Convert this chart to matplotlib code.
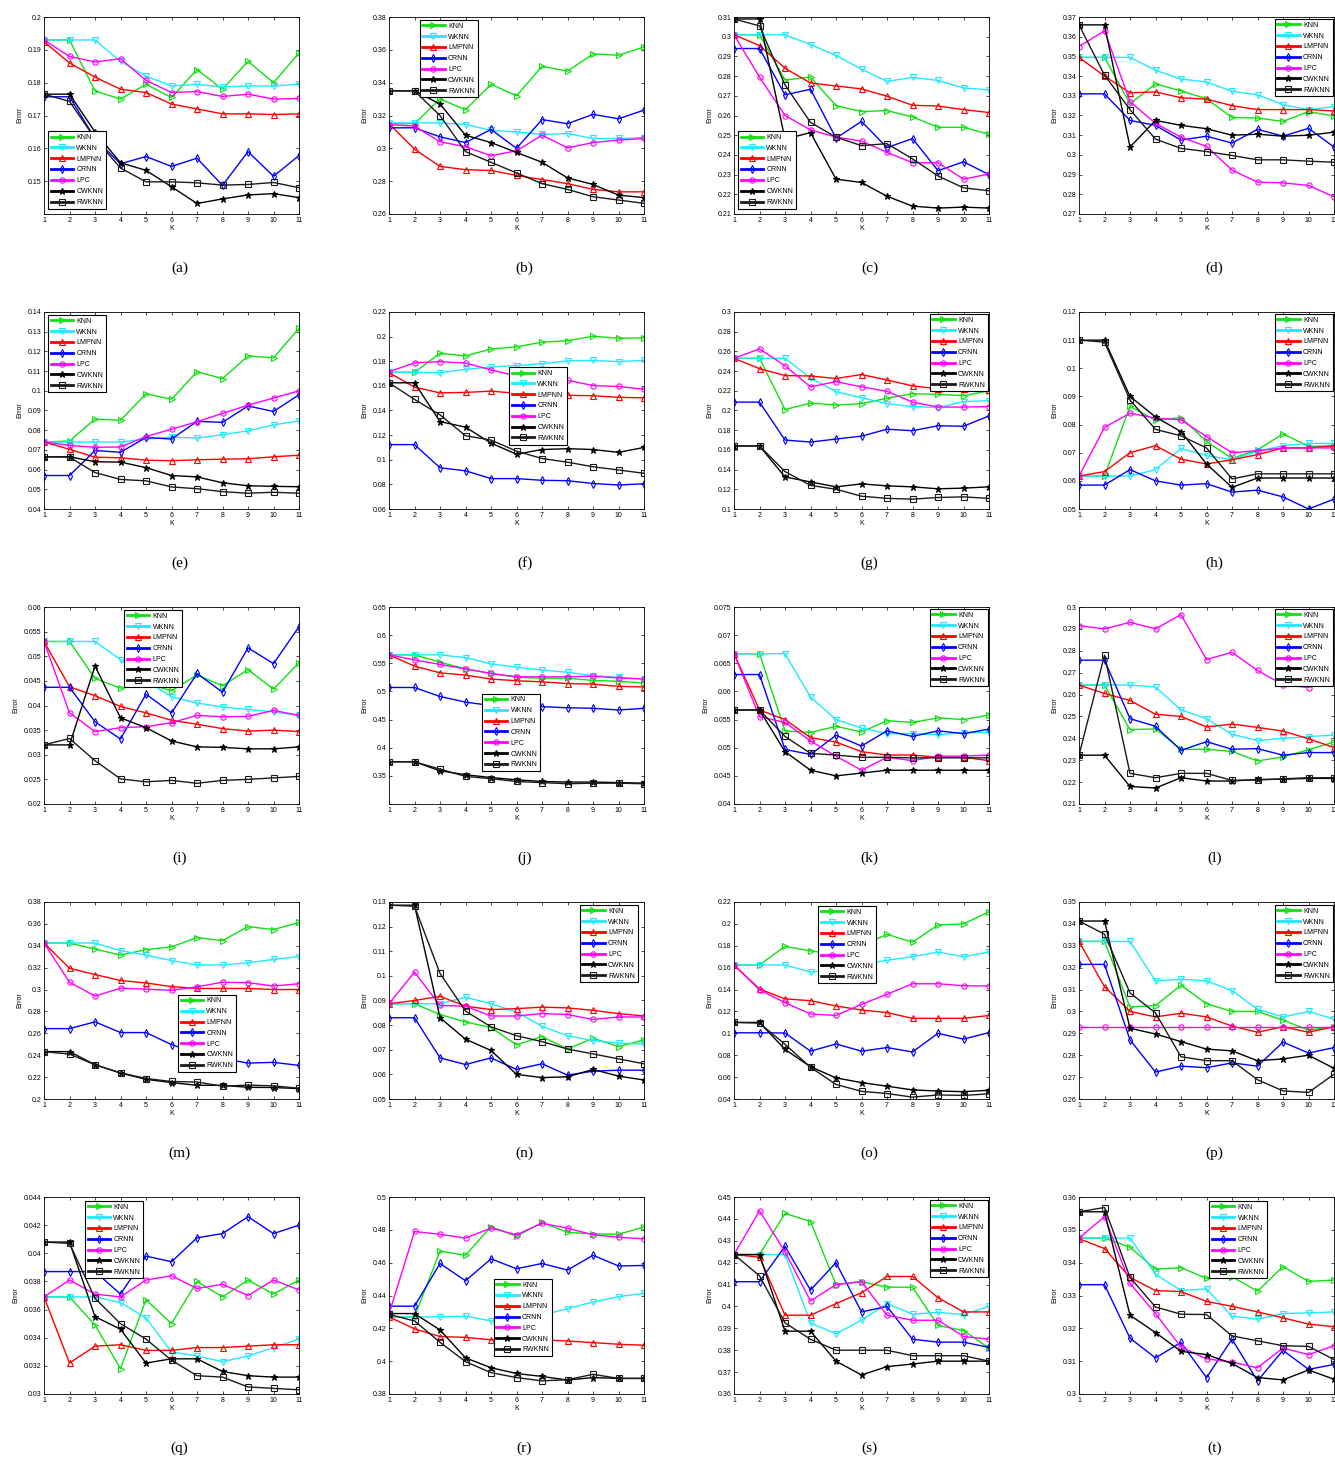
import matplotlib
matplotlib.use("Agg")
import matplotlib.pyplot as plt
import numpy as np

K = list(range(1, 12))
methods = ["KNN", "WKNN", "LMPNN", "CRNN", "LPC", "CWKNN", "RWKNN"]
colors = ["#10e010", "#20e8ff", "#ff0000", "#0000ff", "#ff00ff", "#000000", "#1a1a1a"]
markers = [">", "v", "^", "d", "o", "*", "s"]
panel_labels = ["(a)", "(b)", "(c)", "(d)", "(e)", "(f)", "(g)", "(h)", "(i)", "(j)",
                "(k)", "(l)", "(m)", "(n)", "(o)", "(p)", "(q)", "(r)", "(s)", "(t)"]

err_a = [
    [0.193, 0.193, 0.1775, 0.175, 0.1795, 0.1755, 0.184, 0.178, 0.1865, 0.180, 0.189],
    [0.193, 0.193, 0.193, 0.1865, 0.182, 0.179, 0.1795, 0.1787, 0.179, 0.179, 0.1795],
    [0.1925, 0.186, 0.1817, 0.178, 0.177, 0.1735, 0.172, 0.1705, 0.1705, 0.1703, 0.1705],
    [0.1757, 0.1757, 0.163, 0.1553, 0.1575, 0.1545, 0.157, 0.1487, 0.159, 0.1515, 0.1578],
    [0.193, 0.188, 0.1863, 0.1873, 0.1807, 0.177, 0.1773, 0.1758, 0.1765, 0.175, 0.1752],
    [0.1765, 0.1765, 0.165, 0.1556, 0.1533, 0.1483, 0.1432, 0.1446, 0.1458, 0.1462, 0.145],
    [0.1765, 0.1743, 0.163, 0.154, 0.1498, 0.1498, 0.1495, 0.1488, 0.149, 0.1496, 0.148],
]
err_b = [
    [0.315, 0.315, 0.330, 0.3235, 0.339, 0.332, 0.350, 0.347, 0.3575, 0.3567, 0.3617],
    [0.3155, 0.3155, 0.3155, 0.3145, 0.311, 0.310, 0.3085, 0.309, 0.306, 0.306, 0.3065],
    [0.315, 0.2995, 0.289, 0.287, 0.2865, 0.2835, 0.281, 0.2785, 0.275, 0.2735, 0.2735],
    [0.3125, 0.3125, 0.307, 0.3035, 0.3115, 0.300, 0.3175, 0.315, 0.3207, 0.318, 0.3233],
    [0.3145, 0.3135, 0.304, 0.301, 0.2955, 0.2985, 0.308, 0.3003, 0.3035, 0.305, 0.306],
    [0.335, 0.335, 0.327, 0.308, 0.3035, 0.2975, 0.2915, 0.282, 0.278, 0.2715, 0.270],
    [0.335, 0.335, 0.320, 0.298, 0.2915, 0.285, 0.2785, 0.275, 0.2705, 0.2685, 0.2665],
]
err_c = [
    [0.301, 0.301, 0.278, 0.2795, 0.265, 0.262, 0.2625, 0.2593, 0.254, 0.254, 0.2505],
    [0.301, 0.301, 0.301, 0.296, 0.2905, 0.2835, 0.2773, 0.2793, 0.2778, 0.274, 0.273],
    [0.301, 0.2955, 0.284, 0.2765, 0.275, 0.2735, 0.2698, 0.2652, 0.2648, 0.263, 0.2615],
    [0.294, 0.294, 0.2705, 0.2733, 0.2485, 0.257, 0.2437, 0.2483, 0.232, 0.2365, 0.230],
    [0.301, 0.2795, 0.260, 0.2527, 0.249, 0.247, 0.2413, 0.236, 0.236, 0.2277, 0.2303],
    [0.309, 0.309, 0.248, 0.2513, 0.2277, 0.226, 0.219, 0.214, 0.213, 0.2135, 0.213],
    [0.309, 0.3055, 0.2755, 0.2565, 0.249, 0.2447, 0.2457, 0.238, 0.2293, 0.2233, 0.2218],
]
err_d = [
    [0.3495, 0.3495, 0.326, 0.336, 0.3325, 0.3285, 0.319, 0.3187, 0.317, 0.322, 0.3197],
    [0.3495, 0.3495, 0.3495, 0.343, 0.3385, 0.337, 0.3323, 0.3305, 0.3255, 0.323, 0.3245],
    [0.3495, 0.340, 0.3315, 0.332, 0.329, 0.3283, 0.325, 0.323, 0.323, 0.323, 0.3223],
    [0.331, 0.331, 0.3175, 0.315, 0.3075, 0.3095, 0.306, 0.313, 0.3095, 0.3135, 0.304],
    [0.355, 0.363, 0.327, 0.316, 0.309, 0.3043, 0.2923, 0.2862, 0.2858, 0.2845, 0.2787],
    [0.366, 0.366, 0.304, 0.3175, 0.315, 0.3133, 0.310, 0.3105, 0.3095, 0.310, 0.3115],
    [0.366, 0.3405, 0.323, 0.308, 0.3033, 0.3017, 0.2997, 0.2975, 0.2975, 0.2968, 0.2963],
]
err_e = [
    [0.074, 0.0745, 0.0857, 0.085, 0.0985, 0.0957, 0.1097, 0.1062, 0.1177, 0.1167, 0.1317],
    [0.074, 0.074, 0.074, 0.074, 0.0755, 0.0765, 0.076, 0.0777, 0.0797, 0.0827, 0.0847],
    [0.074, 0.0703, 0.0663, 0.066, 0.0648, 0.0645, 0.065, 0.0653, 0.0655, 0.0665, 0.0673],
    [0.057, 0.057, 0.0697, 0.0688, 0.0763, 0.0755, 0.0845, 0.084, 0.0923, 0.0895, 0.098],
    [0.074, 0.0723, 0.0713, 0.0715, 0.0768, 0.0805, 0.0843, 0.0885, 0.0927, 0.0963, 0.100],
    [0.0665, 0.0665, 0.064, 0.0638, 0.061, 0.057, 0.0563, 0.0533, 0.0518, 0.0515, 0.0513],
    [0.0665, 0.0663, 0.0585, 0.055, 0.0543, 0.0512, 0.0503, 0.0488, 0.048, 0.0485, 0.048],
]
err_f = [
    [0.171, 0.171, 0.1865, 0.1843, 0.190, 0.1917, 0.1955, 0.1967, 0.2003, 0.1987, 0.199],
    [0.171, 0.171, 0.1707, 0.1735, 0.1753, 0.1765, 0.178, 0.1803, 0.1807, 0.1797, 0.1807],
    [0.1707, 0.159, 0.1543, 0.1547, 0.1557, 0.154, 0.153, 0.1523, 0.152, 0.1507, 0.1503],
    [0.1123, 0.1123, 0.0935, 0.091, 0.0847, 0.0847, 0.0833, 0.083, 0.0807, 0.0795, 0.0805],
    [0.1715, 0.1787, 0.1797, 0.1785, 0.173, 0.168, 0.166, 0.1645, 0.1603, 0.1595, 0.1573],
    [0.1625, 0.1625, 0.131, 0.1265, 0.1135, 0.1045, 0.1083, 0.109, 0.1083, 0.106, 0.110],
    [0.1625, 0.149, 0.1365, 0.1195, 0.116, 0.107, 0.101, 0.098, 0.0943, 0.0917, 0.089],
]
err_g = [
    [0.253, 0.253, 0.201, 0.2075, 0.2055, 0.207, 0.2125, 0.217, 0.2165, 0.215, 0.220],
    [0.253, 0.253, 0.253, 0.233, 0.219, 0.213, 0.207, 0.204, 0.203, 0.209, 0.210],
    [0.253, 0.2425, 0.2355, 0.235, 0.2325, 0.2365, 0.231, 0.225, 0.222, 0.222, 0.2205],
    [0.2085, 0.2085, 0.170, 0.168, 0.171, 0.174, 0.181, 0.1795, 0.1845, 0.184, 0.1945],
    [0.253, 0.2625, 0.2455, 0.224, 0.2293, 0.224, 0.2195, 0.2085, 0.2035, 0.2035, 0.204],
    [0.164, 0.164, 0.1325, 0.1275, 0.1225, 0.1255, 0.1235, 0.1225, 0.1205, 0.1212, 0.1225],
    [0.164, 0.164, 0.138, 0.124, 0.120, 0.113, 0.1108, 0.110, 0.1117, 0.1123, 0.1108],
]
err_h = [
    [0.0617, 0.0617, 0.0865, 0.0815, 0.0825, 0.074, 0.068, 0.071, 0.0767, 0.0723, 0.0723],
    [0.0617, 0.0617, 0.0617, 0.064, 0.0715, 0.069, 0.0675, 0.0705, 0.0725, 0.0733, 0.0733],
    [0.0617, 0.0633, 0.070, 0.0725, 0.0677, 0.066, 0.0675, 0.0693, 0.0717, 0.0717, 0.0725],
    [0.0585, 0.0585, 0.064, 0.060, 0.0585, 0.059, 0.056, 0.0567, 0.0543, 0.050, 0.0535],
    [0.0617, 0.079, 0.084, 0.0823, 0.0817, 0.0757, 0.070, 0.0707, 0.0717, 0.0717, 0.0717],
    [0.110, 0.110, 0.090, 0.0827, 0.0775, 0.066, 0.0577, 0.061, 0.061, 0.061, 0.061],
    [0.110, 0.1093, 0.0887, 0.0783, 0.076, 0.0717, 0.0607, 0.0625, 0.0625, 0.0625, 0.0625],
]
err_i = [
    [0.053, 0.053, 0.0455, 0.0435, 0.0445, 0.043, 0.0462, 0.044, 0.0473, 0.0433, 0.0487],
    [0.053, 0.053, 0.053, 0.0493, 0.045, 0.0418, 0.0405, 0.0397, 0.0392, 0.0387, 0.038],
    [0.053, 0.0438, 0.042, 0.0398, 0.0385, 0.037, 0.0362, 0.0353, 0.0348, 0.035, 0.0347],
    [0.0437, 0.0437, 0.0367, 0.0332, 0.0423, 0.0385, 0.0465, 0.0427, 0.0517, 0.0485, 0.056],
    [0.053, 0.0385, 0.0347, 0.0355, 0.0357, 0.0365, 0.038, 0.0377, 0.0378, 0.039, 0.038],
    [0.032, 0.032, 0.048, 0.0375, 0.0355, 0.0328, 0.0316, 0.0315, 0.0312, 0.0312, 0.0316],
    [0.032, 0.0333, 0.0288, 0.0251, 0.0245, 0.0248, 0.0242, 0.0248, 0.025, 0.0253, 0.0256],
]
err_j = [
    [0.565, 0.565, 0.552, 0.540, 0.532, 0.525, 0.5235, 0.5235, 0.5195, 0.518, 0.515],
    [0.565, 0.565, 0.565, 0.560, 0.549, 0.543, 0.538, 0.534, 0.528, 0.525, 0.522],
    [0.565, 0.545, 0.533, 0.529, 0.522, 0.519, 0.517, 0.514, 0.513, 0.509, 0.508],
    [0.507, 0.507, 0.491, 0.481, 0.475, 0.473, 0.473, 0.471, 0.470, 0.467, 0.470],
    [0.565, 0.556, 0.548, 0.540, 0.532, 0.526, 0.526, 0.526, 0.527, 0.524, 0.522],
    [0.375, 0.375, 0.359, 0.352, 0.347, 0.343, 0.340, 0.339, 0.339, 0.338, 0.337],
    [0.375, 0.375, 0.362, 0.349, 0.345, 0.340, 0.338, 0.336, 0.337, 0.337, 0.336],
]
err_k = [
    [0.0667, 0.0667, 0.053, 0.0527, 0.0538, 0.0528, 0.0548, 0.0545, 0.0553, 0.055, 0.0558],
    [0.0667, 0.0667, 0.0667, 0.059, 0.055, 0.0535, 0.0525, 0.0525, 0.0523, 0.0527, 0.0527],
    [0.0667, 0.0567, 0.055, 0.0518, 0.051, 0.0493, 0.0487, 0.0487, 0.0483, 0.0483, 0.0477],
    [0.063, 0.063, 0.0497, 0.0488, 0.0522, 0.0503, 0.053, 0.052, 0.053, 0.0525, 0.0533],
    [0.0667, 0.0555, 0.0545, 0.0512, 0.0485, 0.046, 0.0483, 0.0477, 0.0485, 0.0485, 0.0487],
    [0.0567, 0.0567, 0.0493, 0.046, 0.045, 0.0455, 0.046, 0.046, 0.046, 0.046, 0.046],
    [0.0567, 0.0567, 0.052, 0.049, 0.0487, 0.0483, 0.0483, 0.0482, 0.0482, 0.0482, 0.0482],
]
err_l = [
    [0.2643, 0.2643, 0.244, 0.2443, 0.235, 0.235, 0.234, 0.2297, 0.2315, 0.2348, 0.2383],
    [0.2643, 0.2645, 0.2643, 0.2635, 0.253, 0.249, 0.2418, 0.239, 0.240, 0.2408, 0.2415],
    [0.2643, 0.2605, 0.2573, 0.251, 0.250, 0.2452, 0.2465, 0.245, 0.2433, 0.2398, 0.2358],
    [0.2757, 0.2757, 0.249, 0.2455, 0.2345, 0.2385, 0.235, 0.2353, 0.2323, 0.2335, 0.2335],
    [0.2915, 0.290, 0.293, 0.290, 0.2965, 0.276, 0.2793, 0.271, 0.2645, 0.2632, 0.2673],
    [0.2323, 0.2323, 0.218, 0.2173, 0.222, 0.2205, 0.2205, 0.2212, 0.2213, 0.2217, 0.2217],
    [0.2323, 0.278, 0.224, 0.222, 0.224, 0.224, 0.2208, 0.221, 0.2215, 0.222, 0.222],
]
err_m = [
    [0.3425, 0.3425, 0.337, 0.3315, 0.3365, 0.339, 0.3475, 0.3447, 0.3575, 0.3548, 0.3613],
    [0.3425, 0.3425, 0.3425, 0.3355, 0.3315, 0.3265, 0.3225, 0.3225, 0.3245, 0.3275, 0.3302],
    [0.3425, 0.3195, 0.3137, 0.3083, 0.306, 0.3027, 0.301, 0.301, 0.301, 0.300, 0.300],
    [0.2643, 0.2643, 0.2705, 0.2607, 0.2607, 0.2497, 0.242, 0.237, 0.2328, 0.2335, 0.2307],
    [0.3425, 0.3067, 0.294, 0.3013, 0.3003, 0.2993, 0.3025, 0.3067, 0.3063, 0.3033, 0.3053],
    [0.2433, 0.2433, 0.2313, 0.2237, 0.218, 0.215, 0.2125, 0.2125, 0.2107, 0.2105, 0.2095],
    [0.2433, 0.241, 0.2313, 0.224, 0.2187, 0.216, 0.2155, 0.2117, 0.2127, 0.212, 0.2098],
]
err_n = [
    [0.0887, 0.0887, 0.0843, 0.0813, 0.079, 0.072, 0.0753, 0.0703, 0.0747, 0.0713, 0.074],
    [0.0887, 0.0887, 0.0887, 0.0913, 0.0887, 0.0853, 0.0795, 0.0757, 0.0737, 0.0727, 0.0723],
    [0.0887, 0.090, 0.0917, 0.0877, 0.0863, 0.0867, 0.0873, 0.087, 0.086, 0.0847, 0.0837],
    [0.083, 0.083, 0.0667, 0.064, 0.0667, 0.062, 0.0643, 0.0597, 0.0613, 0.0617, 0.0617],
    [0.0887, 0.1015, 0.088, 0.0877, 0.0837, 0.0837, 0.0847, 0.0843, 0.0823, 0.0833, 0.0833],
    [0.1287, 0.1287, 0.083, 0.0743, 0.0697, 0.060, 0.0587, 0.059, 0.062, 0.0593, 0.0577],
    [0.1287, 0.1283, 0.101, 0.0857, 0.0793, 0.0757, 0.0733, 0.0703, 0.0683, 0.0663, 0.0643],
]
err_o = [
    [0.1625, 0.1625, 0.1795, 0.1753, 0.172, 0.180, 0.1905, 0.1833, 0.199, 0.200, 0.211],
    [0.1625, 0.1625, 0.1625, 0.156, 0.158, 0.163, 0.1667, 0.170, 0.1743, 0.170, 0.1743],
    [0.1625, 0.1405, 0.1315, 0.1298, 0.125, 0.1213, 0.119, 0.1137, 0.1137, 0.1137, 0.1163],
    [0.1005, 0.1005, 0.1003, 0.0837, 0.0903, 0.0837, 0.087, 0.083, 0.100, 0.0947, 0.1007],
    [0.1625, 0.1397, 0.128, 0.1177, 0.1163, 0.1265, 0.1357, 0.1453, 0.1453, 0.1435, 0.1433],
    [0.110, 0.110, 0.0853, 0.0695, 0.0593, 0.055, 0.0517, 0.0483, 0.0473, 0.0467, 0.048],
    [0.110, 0.1093, 0.090, 0.069, 0.0533, 0.047, 0.045, 0.0417, 0.0437, 0.0433, 0.0447],
]
err_p = [
    [0.332, 0.332, 0.302, 0.3027, 0.312, 0.3035, 0.300, 0.300, 0.296, 0.2915, 0.293],
    [0.332, 0.332, 0.332, 0.314, 0.3147, 0.314, 0.3095, 0.301, 0.2975, 0.300, 0.2965],
    [0.332, 0.3113, 0.300, 0.2975, 0.2992, 0.2975, 0.2933, 0.2905, 0.293, 0.2905, 0.293],
    [0.3215, 0.3215, 0.287, 0.2723, 0.275, 0.2743, 0.2765, 0.275, 0.286, 0.281, 0.2835],
    [0.293, 0.293, 0.293, 0.293, 0.293, 0.293, 0.293, 0.293, 0.293, 0.293, 0.293],
    [0.3413, 0.3413, 0.2923, 0.2897, 0.2862, 0.2828, 0.282, 0.2775, 0.2783, 0.280, 0.274],
    [0.3413, 0.3353, 0.3085, 0.2993, 0.2793, 0.2775, 0.2775, 0.2688, 0.2637, 0.263, 0.2713],
]
err_q = [
    [0.0369, 0.0369, 0.0349, 0.0318, 0.0367, 0.035, 0.038, 0.0369, 0.0381, 0.0371, 0.0381],
    [0.0369, 0.0369, 0.0369, 0.0365, 0.0354, 0.033, 0.0327, 0.0323, 0.0327, 0.0333, 0.0339],
    [0.0369, 0.0322, 0.0334, 0.0335, 0.0331, 0.0331, 0.0333, 0.0333, 0.0334, 0.0335, 0.0335],
    [0.0387, 0.0387, 0.0387, 0.0371, 0.0398, 0.0394, 0.0411, 0.0414, 0.0426, 0.0414, 0.042],
    [0.0369, 0.0381, 0.0371, 0.0369, 0.0381, 0.0384, 0.0375, 0.0378, 0.037, 0.0381, 0.0374],
    [0.0408, 0.0408, 0.0355, 0.0346, 0.0322, 0.0325, 0.0325, 0.0316, 0.0313, 0.0312, 0.0312],
    [0.0408, 0.0407, 0.0368, 0.035, 0.0339, 0.0324, 0.0313, 0.0312, 0.0305, 0.0304, 0.0303],
]
err_r = [
    [0.427, 0.427, 0.467, 0.4645, 0.482, 0.476, 0.4845, 0.4785, 0.4775, 0.4773, 0.4817],
    [0.427, 0.427, 0.427, 0.4275, 0.4245, 0.425, 0.428, 0.432, 0.436, 0.4393, 0.4413],
    [0.427, 0.4197, 0.415, 0.4145, 0.413, 0.413, 0.413, 0.4123, 0.4113, 0.4103, 0.4097],
    [0.4335, 0.4335, 0.4595, 0.449, 0.4623, 0.4563, 0.4595, 0.4555, 0.4645, 0.458, 0.4583],
    [0.4287, 0.479, 0.4773, 0.475, 0.481, 0.477, 0.484, 0.481, 0.477, 0.4755, 0.4745],
    [0.429, 0.429, 0.419, 0.402, 0.396, 0.3925, 0.3907, 0.3885, 0.390, 0.3895, 0.3895],
    [0.4285, 0.4245, 0.4115, 0.3997, 0.393, 0.390, 0.388, 0.3887, 0.392, 0.3895, 0.3895],
]
err_s = [
    [0.4237, 0.4237, 0.4425, 0.4388, 0.410, 0.4113, 0.4088, 0.4088, 0.3913, 0.389, 0.381],
    [0.4237, 0.4237, 0.4237, 0.3925, 0.3875, 0.3937, 0.4013, 0.3965, 0.3973, 0.3963, 0.400],
    [0.4237, 0.4225, 0.396, 0.396, 0.4013, 0.4063, 0.4137, 0.4137, 0.404, 0.3975, 0.3975],
    [0.4113, 0.4113, 0.4275, 0.4075, 0.420, 0.3975, 0.400, 0.385, 0.3837, 0.3837, 0.3813],
    [0.4237, 0.4437, 0.425, 0.4025, 0.410, 0.4113, 0.396, 0.3937, 0.3937, 0.3863, 0.385],
    [0.4237, 0.4237, 0.3887, 0.3887, 0.375, 0.3687, 0.3725, 0.3737, 0.375, 0.375, 0.375],
    [0.4237, 0.414, 0.3925, 0.385, 0.380, 0.380, 0.380, 0.3775, 0.3775, 0.3775, 0.375],
]
err_t = [
    [0.3475, 0.3475, 0.3447, 0.338, 0.3385, 0.3352, 0.3357, 0.3313, 0.3388, 0.3343, 0.3347],
    [0.3475, 0.3475, 0.3475, 0.3365, 0.3315, 0.332, 0.3237, 0.3228, 0.3245, 0.3247, 0.325],
    [0.3473, 0.3443, 0.3355, 0.3315, 0.3312, 0.3282, 0.3267, 0.325, 0.3232, 0.3213, 0.3205],
    [0.3333, 0.3333, 0.317, 0.311, 0.3157, 0.305, 0.3167, 0.304, 0.3133, 0.3075, 0.309],
    [0.3475, 0.354, 0.3337, 0.3245, 0.3143, 0.3107, 0.3097, 0.308, 0.314, 0.312, 0.3147],
    [0.3555, 0.3555, 0.324, 0.3187, 0.313, 0.312, 0.3093, 0.305, 0.3043, 0.3073, 0.3045],
    [0.3555, 0.3568, 0.3355, 0.3265, 0.3243, 0.3242, 0.3177, 0.3162, 0.3147, 0.3145, 0.3105],
]

# y-axis ranges and tick steps
ylims = [(0.14, 0.2), (0.26, 0.38), (0.21, 0.31), (0.27, 0.37),
         (0.04, 0.14), (0.06, 0.22), (0.1, 0.3), (0.05, 0.12),
         (0.02, 0.06), (0.3, 0.65), (0.04, 0.075), (0.21, 0.3),
         (0.2, 0.38), (0.05, 0.13), (0.04, 0.22), (0.26, 0.35),
         (0.03, 0.044), (0.38, 0.5), (0.36, 0.45), (0.3, 0.36)]
ysteps = [0.01, 0.02, 0.01, 0.01,
          0.01, 0.02, 0.02, 0.01,
          0.005, 0.05, 0.005, 0.01,
          0.02, 0.01, 0.02, 0.01,
          0.002, 0.02, 0.01, 0.01]
hide_bottom_label = [True, False, False, False, False, False, False, False,
                     False, True, False, False, False, False, False, False,
                     False, False, False, False]

all_err = [err_a, err_b, err_c, err_d, err_e, err_f, err_g, err_h, err_i, err_j,
           err_k, err_l, err_m, err_n, err_o, err_p, err_q, err_r, err_s, err_t]

# legend placement: (loc, anchor in axes fraction)
legend_pos = [
    ("upper left", (0.015, 0.42)), ("upper left", (0.12, 0.985)),
    ("upper left", (0.015, 0.42)), ("upper right", (0.995, 0.99)),
    ("upper left", (0.015, 0.985)), ("upper left", (0.47, 0.72)),
    ("upper right", (0.995, 0.99)), ("upper right", (0.995, 0.99)),
    ("upper left", (0.315, 0.985)), ("upper left", (0.365, 0.56)),
    ("upper right", (0.995, 0.99)), ("upper right", (0.995, 0.99)),
    ("upper left", (0.525, 0.53)), ("upper right", (0.975, 0.985)),
    ("upper left", (0.33, 0.98)), ("upper right", (0.995, 0.985)),
    ("upper left", (0.16, 0.98)), ("upper left", (0.41, 0.585)),
    ("upper right", (0.995, 0.985)), ("upper left", (0.51, 0.98)),
]

W, H = 1335, 1463
fig = plt.figure(figsize=(W / 100, H / 100), dpi=100)
plt.rcParams["font.family"] = ["Liberation Sans", "DejaVu Sans"]

col_left = [44, 389, 734, 1079]
row_top = [17, 312, 607, 902, 1197]
aw, ah = 255, 197
fs = 5

for idx, err in enumerate(all_err):
    r, c = divmod(idx, 4)
    left, top = col_left[c], row_top[r]
    ax = fig.add_axes([left / W, 1 - (top + ah) / H, aw / W, ah / H])
    for s, name in enumerate(methods):
        filled = markers[s] == "*"
        ax.plot(K, err[s], color=colors[s], marker=markers[s], lw=1.0,
                ms=4.5 if filled else 3.8,
                mfc=colors[s] if filled else "none", mec=colors[s], mew=0.8,
                label=name)
    lo, hi = ylims[idx]
    step = ysteps[idx]
    ax.set_xlim(1, 11)
    ax.set_ylim(lo, hi)
    ticks = np.round(np.arange(lo, hi + step / 2, step), 4)
    ax.set_yticks(ticks)
    labels = [f"{t:g}" for t in ticks]
    if hide_bottom_label[idx]:
        labels[0] = ""
    ax.set_yticklabels(labels)
    ax.set_xticks(K)
    ax.tick_params(direction="in", length=2.5, width=0.5, labelsize=fs,
                   top=True, right=True, pad=2)
    for sp in ax.spines.values():
        sp.set_linewidth(0.6)
    ax.set_xlabel("K", fontsize=fs, labelpad=1)
    ax.set_ylabel("Error", fontsize=fs, labelpad=3)
    loc, anchor = legend_pos[idx]
    leg = ax.legend(loc=loc, bbox_to_anchor=anchor, fontsize=fs, frameon=True,
                    fancybox=False, edgecolor="black", framealpha=1,
                    handlelength=3.2, handletextpad=0.5, borderpad=0.4,
                    labelspacing=0.55, borderaxespad=0)
    leg.get_frame().set_linewidth(0.8)
    for ln in leg.get_lines():
        ln.set_linewidth(2.0)
    fig.text((left + aw / 2 + 8) / W, 1 - (top + 251) / H, panel_labels[idx],
             ha="center", va="center", fontsize=11, family="Liberation Serif")

fig.savefig("out.png", dpi=100, facecolor="white")
